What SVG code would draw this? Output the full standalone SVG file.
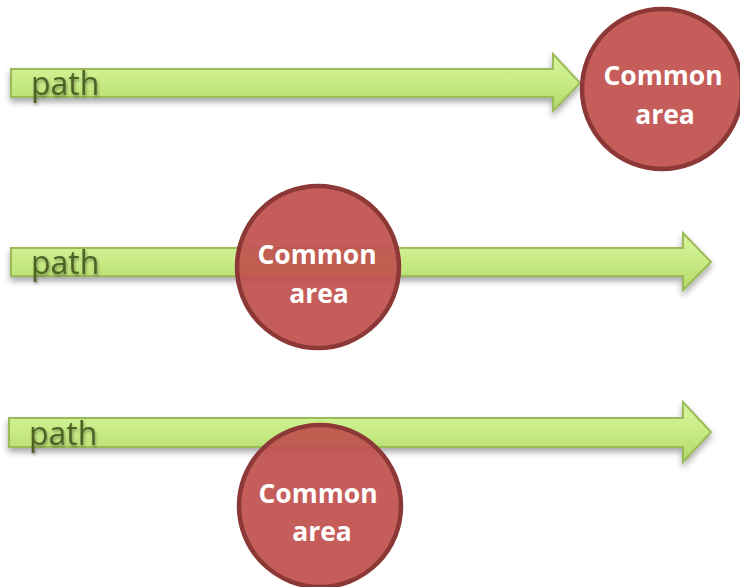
<svg xmlns="http://www.w3.org/2000/svg" width="740" height="587" viewBox="0 0 740 587">
<defs>
<linearGradient id="g" x1="0" y1="0" x2="0" y2="1">
<stop offset="0" stop-color="#d8f59c"/>
<stop offset="0.5" stop-color="#c8eb86"/>
<stop offset="1" stop-color="#b2d866"/>
</linearGradient>
<filter id="sh" x="-5%" y="-30%" width="110%" height="170%">
<feDropShadow dx="0" dy="4" stdDeviation="3" flood-color="#000" flood-opacity="0.35"/>
</filter>
<filter id="tsh" x="-10%" y="-20%" width="130%" height="150%">
<feDropShadow dx="1" dy="2" stdDeviation="1.5" flood-color="#000" flood-opacity="0.35"/>
</filter>
</defs>
<style>
.arrow{fill:url(#g);stroke:#9bbb59;stroke-width:2;stroke-linejoin:miter;filter:url(#sh)}
.lbl{font-family:"Open Sans","Liberation Sans",sans-serif;font-size:32px;fill:#4f6228;filter:url(#tsh)}
.circ{fill:#c0504d;fill-opacity:0.92;stroke:#8c3836;stroke-width:4.5}
.ct{font-family:"Open Sans","Liberation Sans",sans-serif;font-size:26.5px;font-weight:bold;fill:#fff;text-anchor:middle}
</style>
<g id="connectors">
<g id="arrow1">
<path class="arrow" d="M11,69 H553 V54 L580,83 L553,111 V97 H11 Z"/>
<text class="lbl" x="31" y="95">path</text>
</g>
<g id="arrow2">
<path class="arrow" d="M11,248 H683 V233 L711,262 L683,290 V276 H11 Z"/>
<text class="lbl" x="31" y="274">path</text>
</g>
<g id="arrow3">
<path class="arrow" d="M9,418 H683 V402 L711,432 L683,462 V447 H9 Z"/>
<text class="lbl" x="29" y="445">path</text>
</g>
</g>
<g id="area1">
<circle class="circ" cx="662" cy="89" r="80"/>
<text class="ct" x="663" y="85">Common</text>
<text class="ct" x="665" y="124">area</text>
</g>
<g id="area2">
<circle class="circ" cx="318" cy="267" r="81"/>
<text class="ct" x="317" y="264">Common</text>
<text class="ct" x="319" y="303">area</text>
</g>
<g id="area3">
<circle class="circ" cx="320" cy="506" r="81"/>
<text class="ct" x="318" y="503">Common</text>
<text class="ct" x="322" y="541">area</text>
</g>
</svg>
